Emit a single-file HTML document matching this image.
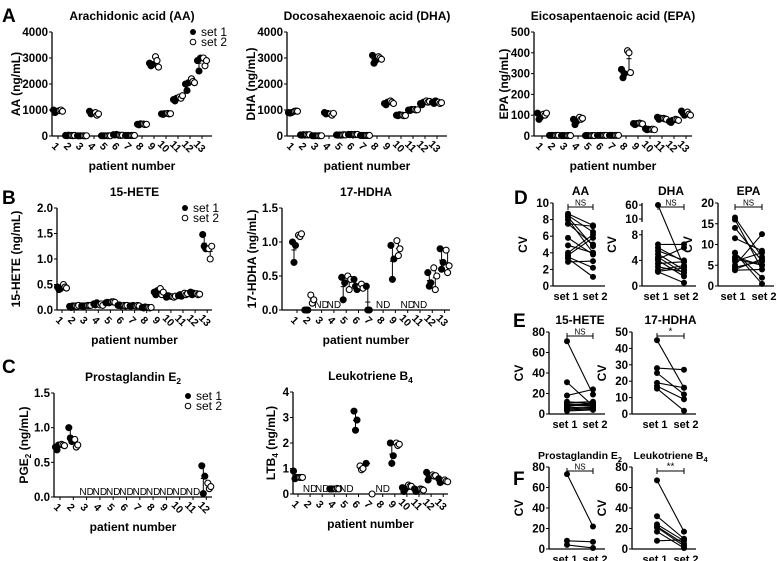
<!DOCTYPE html>
<html><head><meta charset="utf-8"><style>
body{margin:0;background:#fff}
svg{display:block;font-family:"Liberation Sans",Arial,sans-serif;font-weight:bold}
</style></head><body>
<svg id="fig" width="777" height="561" viewBox="0 0 777 561" xmlns="http://www.w3.org/2000/svg"></svg>
<script>
// ---------- data ----------
const patients=[1,2,3,4,5,6,7,8,9,10,11,12,13];
const aaSet1=[[1000,900,950],[20,10,30],[10,5,10],[950,850,880],[10,10,10],[50,40,60],[20,20,20],[450,430,470],[2800,2700,2750],[850,830,860],[1400,1350,1450],[2000,1750,2050],[2900,2500,3000]];
const aaSet2=[[980,1000,950],[20,10,20],[10,5,10],[900,800,850],[10,10,10],[30,20,30],[20,20,20],[460,440,450],[3050,2900,2650],[870,850,860],[1500,1450,1550],[2200,2100,2050],[3000,2700,2900]];
const dhaSet1=[[900,880,900],[40,30,50],[10,10,10],[900,850,870],[40,30,40],[60,50,60],[20,20,20],[3100,2800,2900],[1250,1200,1300],[800,780,820],[1000,980,1020],[1250,1200,1300],[1300,1250,1350]];
const dhaSet2=[[950,960,950],[50,40,50],[10,10,10],[850,800,870],[40,50,40],[60,50,60],[20,20,20],[3050,3000,2950],[1350,1300,1250],[800,780,790],[1020,1000,1010],[1350,1300,1330],[1300,1250,1280]];
const epaSet1=[[110,80,90],[3,3,3],[2,2,2],[80,55,70],[2,2,2],[3,3,3],[3,3,3],[320,280,300],[60,55,60],[35,30,32],[90,80,85],[70,65,75],[120,110,100]];
const epaSet2=[[105,100,110],[3,3,3],[2,2,2],[90,80,85],[2,2,2],[3,3,3],[3,3,3],[410,400,305],[62,60,58],[32,33,30],[85,82,80],[80,78,75],[115,105,100]];
const heteSet1=[[0.45,0.4,0.42],[0.07,0.05,0.08],[0.08,0.08,0.08],[0.12,0.1,0.14],[0.14,0.15,0.14],[0.09,0.1,0.08],[0.08,0.08,0.09],[0.05,0.04,0.06],[0.35,0.3,0.38],[0.25,0.28,0.27],[0.28,0.3,0.27],[0.35,0.3,0.33],[1.48,1.25,1.2]];
const heteSet2=[[0.5,0.45,0.43],[0.08,0.07,0.09],[0.09,0.09,0.09],[0.1,0.12,0.09],[0.16,0.16,0.15],[0.09,0.08,0.09],[0.08,0.09,0.08],[0.05,0.04,0.05],[0.42,0.3,0.35],[0.26,0.25,0.27],[0.33,0.3,0.32],[0.32,0.3,0.31],[1.2,1.0,1.25]];
const hdhaSet1=[[1.0,0.7,0.95],[0,0,0],null,null,[0.48,0.15,0.4],[0.45,0.35,0.3],[0.35,0,0],null,[0.95,0.45,0.75],null,null,[0.55,0.35,0.4],[0.9,0.6,0.7]];
const hdhaSet2=[[1.1,1.08,1.12],[0.22,0.1,0.15],null,null,[0.5,0.3,0.45],[0.35,0.38,0.32],null,null,[1.02,0.8,0.9],null,null,[0.62,0.3,0.5],[0.88,0.55,0.65]];
const pgPatients=[1,2,3,4,5,6,7,8,9,10,11,12];
const pgSet1=[[0.72,0.68,0.75],[1.0,0.85,0.8],null,null,null,null,null,null,null,null,null,[0.45,0.05,0.3]];
const pgSet2=[[0.76,0.75,0.74],[0.83,0.72,0.75],null,null,null,null,null,null,null,null,null,[0.2,0.12,0.15]];
const ltSet1=[[0.9,0.6,0.65],null,null,[0.2,0.2,0.2],null,[3.25,2.5,2.9],[1.2],null,[2.0,1.2,1.5],[0.25,0.1,0.2],[0.2,0.1,0.15],[0.85,0.55,0.7],[0.6,0.45,0.5]];
const ltSet2=[[0.65,0.65,0.65],null,null,[0.2,0.22,0.2],null,[1.1,0.95,1.0],[0],null,[2.0,1.9,1.95],[0.35,0.3,0.3],[0.2,0.18,0.15],[0.75,0.7,0.72],[0.55,0.5,0.48]];
// paired CV data
const cvAA1=[8.7,8.5,8.3,8.0,7.5,7.5,5.8,4.9,4.0,3.7,3.5,3.3,2.9];
const cvAA2=[7.3,6.5,4.8,4.0,5.0,7.2,3.8,4.0,6.2,5.8,2.2,1.1,3.0];
const cvDHA1=[60,6.5,6.0,5.0,4.5,4.0,3.5,2.5,2.3,2.2,4.2,3.0,5.5];
const cvDHA2=[3.0,6.5,3.8,2.5,2.0,1.5,3.8,3.2,2.8,0.5,6.0,2.2,4.0];
const cvEPA1=[16.5,16,14,11.5,8,8,7,6,5,4.5,4,3.8,6.5];
const cvEPA2=[7,4,6,8.5,2,0.5,5,8,12.5,6,6.5,4,5];
const cvHETE1=[71,31,18,12,11,10,9,8,7,6,5,4,3];
const cvHETE2=[19,8,24,10,12,9,8,9,11,7,6,5,4];
const cvHDHA1=[45,28,25,19,17,15.5];
const cvHDHA2=[16,27,12,16,9,2];
const cvPGE1=[73,8,4];
const cvPGE2=[22,7,1];
const cvLTB1=[67,32,24,22,21,17,8];
const cvLTB2=[17,10,8,5,3,1,9];

// ---------- helpers ----------
const svg=document.getElementById('fig');
const NS='http://www.w3.org/2000/svg';
function el(tag,attrs,parent){const e=document.createElementNS(NS,tag);for(const k in attrs)e.setAttribute(k,attrs[k]);(parent||svg).appendChild(e);return e;}
function txt(s,x,y,size,anchor,parent,extra){const t=el('text',Object.assign({x:x,y:y,'font-size':size,'text-anchor':anchor||'middle',fill:'#000'},extra||{}),parent);t.textContent=s;return t;}
function titleSub(g,main,sub,x,y,size){const t=el('text',{x:x,y:y,'font-size':size,'text-anchor':'middle'},g);t.appendChild(document.createTextNode(main));if(sub){const ts=el('tspan',{'font-size':size*0.7,dy:3},t);ts.textContent=sub;}return t;}

function panelLetter(s,x,y){const t=txt(s,x,y,19,'start');}
panelLetter('A',2,22);panelLetter('B',2,204);panelLetter('C',2,373);
panelLetter('D',514,204);panelLetter('E',513,327);panelLetter('F',513,485);

function scatterPanel(c){
  const g=el('g',{});
  
  
  const ys=v=>c.y0-(v/c.ymax)*(c.y0-c.ytop);
  const xs=i=>c.p1+i*c.dx;
  const ya=el('line',{x1:c.x0,y1:c.ytop,x2:c.x0,y2:c.y0,stroke:'#000','stroke-width':1.3},g);
  
  const xa=el('line',{x1:c.x0,y1:c.y0,x2:c.x1,y2:c.y0,stroke:'#000','stroke-width':1.3},g);
  
  c.ticks.forEach((t,k)=>{const y=ys(t);el('line',{x1:c.x0-3,y1:y,x2:c.x0,y2:y,stroke:'#000'},g);
    const tl=txt(c.tickLabels[k],c.x0-4,y+4,11.5,'end',g);});
  c.cats.forEach((p,i)=>{const x=xs(i);el('line',{x1:x,y1:c.y0,x2:x,y2:c.y0+3,stroke:'#000'},g);
    const tl=txt(String(p),x-2,c.y0+14,10.5,'middle',g,{transform:'rotate(45 '+(x-2)+' '+(c.y0+10)+')'});
    });
  const xt=txt('patient number',(c.x0+c.x1)/2,c.y0+34,12,'middle',g);
  const tt=titleSub(g,c.title,c.titleSub,(c.x0+c.x1)/2,c.ytop-12,12);
  const yl=el('text',{x:0,y:0,'font-size':12,'text-anchor':'middle',transform:'translate('+c.ylx+','+((c.ytop+c.y0)/2)+') rotate(-90)'},g);
  yl.appendChild(document.createTextNode(c.ylabel));
  if(c.ylabelSub){const ts=el('tspan',{'font-size':8,dy:3},yl);ts.textContent=c.ylabelSub;const t2=el('tspan',{dy:-3},yl);t2.textContent=c.ylabelRest;}
  
  c.cats.forEach((p,i)=>{
    const a=c.s1[i],b=c.s2[i];
    if(!a&&!b){const nd=txt('ND',xs(i),c.y0-2,10,'middle',g,{'font-weight':'normal'});return;}
    [[a,-3,'#000'],[b,3,'#fff']].forEach(([arr,off,fill])=>{
      if(!arr)return;const x=xs(i)+off;
      const mn=Math.min(...arr),mx=Math.max(...arr),mean=arr.reduce((s,v)=>s+v,0)/arr.length;
      el('line',{x1:x,y1:ys(mn),x2:x,y2:ys(mx),stroke:'#000','stroke-width':1},g);
      el('line',{x1:x-2.5,y1:ys(mean),x2:x+2.5,y2:ys(mean),stroke:'#000','stroke-width':1},g);
      arr.forEach((v,k)=>{const pt=el('circle',{cx:x+(k-1)*1.5,cy:ys(v),r:3,fill:fill,stroke:'#000','stroke-width':1.1},g);
        });
    });
  });
  if(c.legend){const [lx,ly]=c.legend;
    const l1=el('g',{},g);
    el('circle',{cx:lx,cy:ly,r:3,fill:'#000'},l1);txt('set 1',lx+8,ly+4,12,'start',l1,{'font-weight':'normal'});
    const l2=el('g',{},g);
    el('circle',{cx:lx,cy:ly+10,r:2.8,fill:'#fff',stroke:'#000'},l2);txt('set 2',lx+8,ly+14,12,'start',l2,{'font-weight':'normal'});}
}
scatterPanel({name:'aa-chart',x0:52,x1:212,ytop:32,y0:136,ymax:4000,ticks:[0,1000,2000,3000,4000],tickLabels:['0','1000','2000','3000','4000'],cats:patients,p1:58,dx:12,s1:aaSet1,s2:aaSet2,title:'Arachidonic acid (AA)',ylabel:'AA (ng/mL)',ylx:20,legend:[193,32]});
scatterPanel({name:'dha-chart',x0:287,x1:447,ytop:32,y0:136,ymax:4000,ticks:[0,1000,2000,3000,4000],tickLabels:['0','1000','2000','3000','4000'],cats:patients,p1:293,dx:12,s1:dhaSet1,s2:dhaSet2,title:'Docosahexaenoic acid (DHA)',ylabel:'DHA (ng/mL)',ylx:255});
scatterPanel({name:'epa-chart',x0:534,x1:692,ytop:32,y0:136,ymax:500,ticks:[0,100,200,300,400,500],tickLabels:['0','100','200','300','400','500'],cats:patients,p1:542,dx:12,s1:epaSet1,s2:epaSet2,title:'Eicosapentaenoic acid (EPA)',ylabel:'EPA (ng/mL)',ylx:508});
scatterPanel({name:'hete-chart',x0:57,x1:212,ytop:208,y0:310,ymax:2,ticks:[0,0.5,1,1.5,2],tickLabels:['0.0','0.5','1.0','1.5','2.0'],cats:patients,p1:62,dx:12.1,s1:heteSet1,s2:heteSet2,title:'15-HETE',ylabel:'15-HETE (ng/mL)',ylx:20,legend:[185,208]});
scatterPanel({name:'hdha-chart',x0:282,x1:450,ytop:208,y0:310,ymax:1.5,ticks:[0,0.5,1,1.5],tickLabels:['0.0','0.5','1.0','1.5'],cats:patients,p1:297,dx:12.3,s1:hdhaSet1,s2:hdhaSet2,title:'17-HDHA',ylabel:'17-HDHA (ng/mL)',ylx:256});
scatterPanel({name:'pge2-chart',x0:54,x1:212,ytop:393,y0:497,ymax:1.5,ticks:[0,0.5,1,1.5],tickLabels:['0.0','0.5','1.0','1.5'],cats:pgPatients,p1:60,dx:13.3,s1:pgSet1,s2:pgSet2,title:'Prostaglandin E',titleSub:'2',ylabel:'PGE',ylabelSub:'2',ylabelRest:' (ng/mL)',ylx:28,legend:[188,396]});
scatterPanel({name:'ltb4-chart',x0:293,x1:448,ytop:392,y0:494,ymax:4,ticks:[0,1,2,3,4],tickLabels:['0','1','2','3','4'],cats:patients,p1:298,dx:12.1,s1:ltSet1,s2:ltSet2,title:'Leukotriene B',titleSub:'4',ylabel:'LTB',ylabelSub:'4',ylabelRest:' (ng/mL)',ylx:275});

function pairedPanel(c){
  const g=el('g',{});
  
  
  const ys=c.scale;
  const xa1=c.xa,xb1=c.xb;
  const ya=el('line',{x1:c.x0,y1:c.ytop,x2:c.x0,y2:c.y0,stroke:'#000','stroke-width':1.3},g);
  
  if(c.brk){el('rect',{x:c.x0-3,y:c.brk[0],width:6,height:c.brk[1]-c.brk[0],fill:'#fff'},g);}
  const xa=el('line',{x1:c.x0,y1:c.y0,x2:xb1+12,y2:c.y0,stroke:'#000','stroke-width':1.3},g);
  
  c.ticks.forEach((t,k)=>{const y=ys(t);el('line',{x1:c.x0-3,y1:y,x2:c.x0,y2:y,stroke:'#000'},g);
    const tl=txt(c.tickLabels[k],c.x0-4,y+4,11.5,'end',g);});
  [['set 1',xa1-2],['set 2',xb1+2]].forEach(([s,x])=>{const t=txt(s,x,c.y0+14,11,'middle',g);});
  const tt=titleSub(g,c.title,c.titleSub,(xa1+xb1)/2,c.ytop-8,c.tsize||12);
  const yl=txt('CV',0,0,12,'middle',g,{transform:'translate('+(c.x0-26)+','+((c.ytop+c.y0)/2)+') rotate(-90)'});
  
  const sy=c.ytop+4;
  const sig=el('g',{},g);
  el('line',{x1:xa1,y1:sy,x2:xb1,y2:sy,stroke:'#000'},sig);
  el('line',{x1:xa1,y1:sy-3,x2:xa1,y2:sy+3,stroke:'#000'},sig);
  el('line',{x1:xb1,y1:sy-3,x2:xb1,y2:sy+3,stroke:'#000'},sig);
  txt(c.sig,(xa1+xb1)/2,sy-1.5,c.sig==='NS'?8:10,'middle',sig,{'font-weight':'normal'});
  c.s1.forEach((v,i)=>{const w=c.s2[i];
    const ln=el('line',{x1:xa1,y1:ys(v),x2:xb1,y2:ys(w),stroke:'#000','stroke-width':1.1},g);
    
    [[xa1,v],[xb1,w]].forEach(([x,val])=>{const p=el('circle',{cx:x,cy:ys(val),r:3,fill:'#000'},g);});
  });
}
function lin(ytop,y0,max){return v=>y0-(v/max)*(y0-ytop);}
pairedPanel({name:'cv-aa',x0:553,ytop:203,y0:286,xa:568,xb:593,scale:lin(203,286,10),ticks:[0,2,4,6,8,10],tickLabels:['0','2','4','6','8','10'],title:'AA',sig:'NS',s1:cvAA1,s2:cvAA2});
pairedPanel({name:'cv-dha',x0:642,ytop:203,y0:286,xa:658,xb:684,brk:[222,230],scale:v=>v<=9?286-v*6.4:219-(v-10)/50*14,ticks:[0,4,8,10,60],tickLabels:['0','4','8','10','60'],title:'DHA',sig:'NS',s1:cvDHA1,s2:cvDHA2});
pairedPanel({name:'cv-epa',x0:718,ytop:203,y0:286,xa:735,xb:762,scale:lin(203,286,20),ticks:[0,5,10,15,20],tickLabels:['0','5','10','15','20'],title:'EPA',sig:'NS',s1:cvEPA1,s2:cvEPA2});
pairedPanel({name:'cv-15-hete',x0:549,ytop:332,y0:414,xa:567,xb:593,scale:lin(332,414,80),ticks:[0,20,40,60,80],tickLabels:['0','20','40','60','80'],title:'15-HETE',sig:'NS',s1:cvHETE1,s2:cvHETE2});
pairedPanel({name:'cv-17-hdha',x0:632,ytop:332,y0:414,xa:657,xb:684,scale:lin(332,414,50),ticks:[0,10,20,30,40,50],tickLabels:['0','10','20','30','40','50'],title:'17-HDHA',sig:'*',s1:cvHDHA1,s2:cvHDHA2});
pairedPanel({name:'cv-pge2',x0:549,ytop:467,y0:549,xa:567,xb:593,scale:lin(467,549,80),ticks:[0,20,40,60,80],tickLabels:['0','20','40','60','80'],title:'Prostaglandin E',titleSub:'2',tsize:10.5,sig:'NS',s1:cvPGE1,s2:cvPGE2});
pairedPanel({name:'cv-ltb4',x0:632,ytop:467,y0:549,xa:657,xb:684,scale:lin(467,549,80),ticks:[0,20,40,60,80],tickLabels:['0','20','40','60','80'],title:'Leukotriene B',titleSub:'4',tsize:10.5,sig:'**',s1:cvLTB1,s2:cvLTB2});
</script>
</body></html>
